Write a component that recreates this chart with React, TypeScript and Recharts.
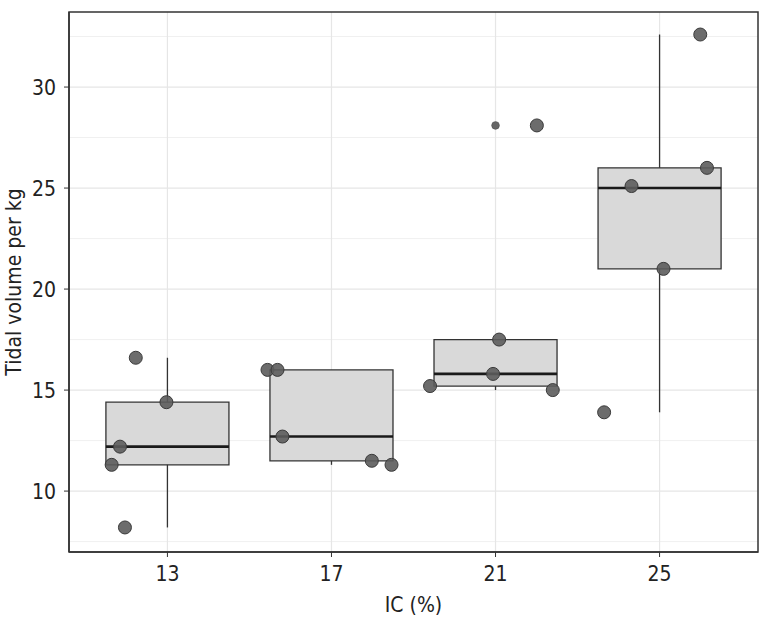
import {
  ComposedChart,
  Scatter,
  XAxis,
  YAxis,
  CartesianGrid,
  ReferenceArea,
  ReferenceLine,
} from 'recharts';

// IC (%) groups, placed at discrete positions 1..4
const icLevels = ['13', '17', '21', '25'];
const groupPos = [1, 2, 3, 4];

// box statistics
const q1 = [11.3, 11.5, 15.2, 21.0];
const median = [12.2, 12.7, 15.8, 25.0];
const q3 = [14.4, 16.0, 17.5, 26.0];
const whiskerLow = [8.2, 11.3, 15.0, 13.9];
const whiskerHigh = [16.6, 16.0, 17.5, 32.6];

// outliers drawn by the boxplot itself
const outlierX = [3];
const outlierY = [28.1];

// jittered observations
const pointX = [
  0.807, 0.994, 0.711, 0.66, 0.741,
  1.61, 1.671, 1.701, 2.246, 2.366,
  3.022, 2.985, 2.601, 3.349, 3.252,
  4.248, 4.289, 3.829, 4.024, 3.662,
];
const pointY = [
  16.6, 14.4, 12.2, 11.3, 8.2,
  16.0, 16.0, 12.7, 11.5, 11.3,
  17.5, 15.8, 15.2, 15.0, 28.1,
  32.6, 26.0, 25.1, 21.0, 13.9,
];

const yTicks = [10, 15, 20, 25, 30];
const yGrid = [7.5, 12.5, 17.5, 22.5, 27.5, 32.5];
const xDomain: [number, number] = [0.4, 4.6];
const yDomain: [number, number] = [6.985, 33.715];

const boxHalf = 0.375;
const font = "'Liberation Sans Narrow', 'DejaVu Sans Condensed', 'Roboto Condensed', sans-serif";
const ink = '#333333';

const points = pointX.map((x, i) => ({ x, y: pointY[i] }));
const outliers = outlierX.map((x, i) => ({ x, y: outlierY[i] }));

const Dot = (props: any) => (
  <circle cx={props.cx} cy={props.cy} r={6.5} fill="#5c5c5c" fillOpacity={0.9} stroke="#3a3a3a" strokeWidth={1} />
);

const SmallDot = (props: any) => (
  <circle cx={props.cx} cy={props.cy} r={3.8} fill="#666666" stroke="#555555" strokeWidth={0.8} />
);

export default function App() {
  return (
    <div style={{ position: 'absolute', left: 0, top: 0, background: '#fff' }}>
      <ComposedChart width={771} height={626} margin={{ top: 12, right: 13, left: 0, bottom: 0 }}>
        <CartesianGrid horizontalValues={yGrid} verticalValues={[]} vertical={false} stroke="#f0f0f0" strokeWidth={1} />
        <CartesianGrid horizontalValues={yTicks} verticalValues={groupPos} stroke="#e6e6e6" strokeWidth={1.2} />
        <XAxis
          type="number"
          dataKey="x"
          domain={xDomain}
          ticks={groupPos}
          allowDataOverflow
          tickFormatter={(v: number) => icLevels[v - 1]}
          height={74}
          tickSize={5}
          tickMargin={9}
          axisLine={{ stroke: ink, strokeWidth: 1.5 }}
          tickLine={{ stroke: ink }}
          tick={{ fill: '#222', fontSize: 21, fontFamily: font }}
          label={{ value: 'IC (%)', position: 'insideBottom', offset: 14, fill: '#222', fontSize: 21, fontFamily: font }}
        />
        <YAxis
          type="number"
          dataKey="y"
          domain={yDomain}
          ticks={yTicks}
          allowDataOverflow
          width={69}
          tickSize={5}
          tickMargin={8}
          axisLine={{ stroke: ink, strokeWidth: 1.5 }}
          tickLine={{ stroke: ink }}
          tick={{ fill: '#222', fontSize: 21, fontFamily: font }}
          label={{ value: 'Tidal volume per kg', angle: -90, position: 'insideLeft', offset: 0, dx: 14, fill: '#222', fontSize: 21, fontFamily: font, style: { textAnchor: 'middle' } }}
        />
        {groupPos.map((p, i) => (
          <ReferenceLine
            key={'wu' + i}
            segment={[{ x: p, y: q3[i] }, { x: p, y: whiskerHigh[i] }]}
            stroke={ink}
            strokeWidth={1.3}
          />
        ))}
        {groupPos.map((p, i) => (
          <ReferenceLine
            key={'wl' + i}
            segment={[{ x: p, y: q1[i] }, { x: p, y: whiskerLow[i] }]}
            stroke={ink}
            strokeWidth={1.3}
          />
        ))}
        {groupPos.map((p, i) => (
          <ReferenceArea
            key={'box' + i}
            x1={p - boxHalf}
            x2={p + boxHalf}
            y1={q1[i]}
            y2={q3[i]}
            fill="#d9d9d9"
            fillOpacity={1}
            stroke={ink}
            strokeWidth={1.3}
          />
        ))}
        {groupPos.map((p, i) => (
          <ReferenceLine
            key={'med' + i}
            segment={[{ x: p - boxHalf, y: median[i] }, { x: p + boxHalf, y: median[i] }]}
            stroke="#1a1a1a"
            strokeWidth={2.6}
          />
        ))}
        <ReferenceArea
          x1={xDomain[0]}
          x2={xDomain[1]}
          y1={yDomain[0]}
          y2={yDomain[1]}
          fill="none"
          stroke={ink}
          strokeWidth={1.5}
        />
        <Scatter data={outliers} shape={SmallDot} isAnimationActive={false} />
        <Scatter data={points} shape={Dot} isAnimationActive={false} />
      </ComposedChart>
    </div>
  );
}
